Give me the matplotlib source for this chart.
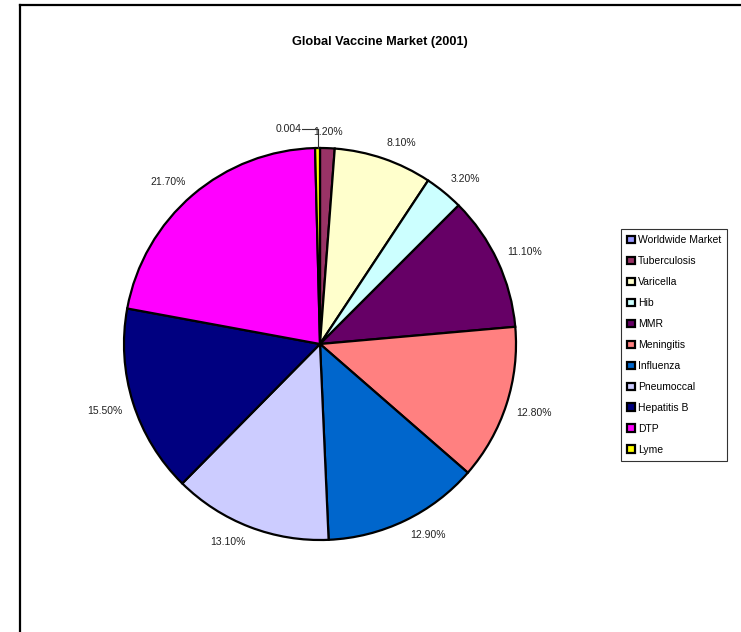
import numpy as np
import matplotlib.pyplot as plt
from matplotlib.patches import Patch
from matplotlib.lines import Line2D

plt.rcParams['font.family'] = ['Liberation Sans', 'DejaVu Sans']

# market share by vaccine, percent (Excel default palette)
vaccines = ['Worldwide Market', 'Tuberculosis', 'Varicella', 'Hib', 'MMR',
            'Meningitis', 'Influenza', 'Pneumoccal', 'Hepatitis B', 'DTP', 'Lyme']
share = [0.0, 1.2, 8.1, 3.2, 11.1, 12.8, 12.9, 13.1, 15.5, 21.7, 0.4]
colors = ['#9999FF', '#993366', '#FFFFCC', '#CCFFFF', '#660066', '#FF8080',
          '#0066CC', '#CCCCFF', '#000080', '#FF00FF', '#FFFF00']

W, H = 741, 632
fig = plt.figure(figsize=(W / 100, H / 100), dpi=100)

# chart area border (only left and top edges fall inside the image)
fig.add_artist(Line2D([20 / W, 20 / W], [0, 1 - 5 / H], color='black',
                      lw=1.6, transform=fig.transFigure))
fig.add_artist(Line2D([20 / W, 1], [1 - 5 / H, 1 - 5 / H], color='black',
                      lw=1.6, transform=fig.transFigure))

fig.text(380 / W, 1 - 42 / H, 'Global Vaccine Market (2001)',
         ha='center', va='center', fontsize=9.2, fontweight='bold')

# pie: centre (320, 344) px, radius 196 px
cx, cy, R = 320, 344, 196
ax = fig.add_axes([(cx - R) / W, (H - cy - R) / H, 2 * R / W, 2 * R / H])
wedges, _ = ax.pie(share, colors=colors, startangle=90, counterclock=False,
                   radius=1.0, wedgeprops=dict(edgecolor='black', linewidth=1.6))
ax.set_xlim(-1, 1)
ax.set_ylim(-1, 1)
ax.set_aspect('equal')
ax.axis('off')

# data labels: the label box corner nearest the pie sits just outside the rim
d = 1.055
for w, name, v in zip(wedges, vaccines, share):
    if v == 0:
        continue
    ang = np.deg2rad((w.theta1 + w.theta2) / 2)
    ux, uy = np.cos(ang), np.sin(ang)
    if name == 'Lyme':
        # tiny slice: label pulled to the left with a leader line
        ly = 1.095
        ax.plot([ux, ux], [uy, ly], color='#333333', lw=0.8, clip_on=False)
        ax.plot([ux, ux - 0.08], [ly, ly], color='#333333', lw=0.8, clip_on=False)
        ax.text(ux - 0.08, ly, f'{v / 100:.3f}', ha='right', va='center',
                fontsize=7.5, color='#222222')
        continue
    if name == 'Tuberculosis':
        ha = 'center'
    else:
        ha = 'left' if ux > 0 else 'right'
    va = 'bottom' if uy > 0 else 'top'
    ax.text(ux * d, uy * d, f'{v:.2f}%', ha=ha, va=va,
            fontsize=7.5, color='#222222')

handles = [Patch(facecolor=c, edgecolor='black', linewidth=1.6) for c in colors]
leg = fig.legend(handles, vaccines, loc='upper left',
                 bbox_to_anchor=(621 / W, 1 - 229 / H), fontsize=7.5,
                 frameon=True, fancybox=False, shadow=False,
                 handlelength=0.7, handleheight=0.7, handletextpad=0.3,
                 labelspacing=1.05, borderpad=0.6, borderaxespad=0)
leg.get_frame().set_edgecolor('black')
leg.get_frame().set_linewidth(0.8)

fig.savefig('out.png', dpi=100)
